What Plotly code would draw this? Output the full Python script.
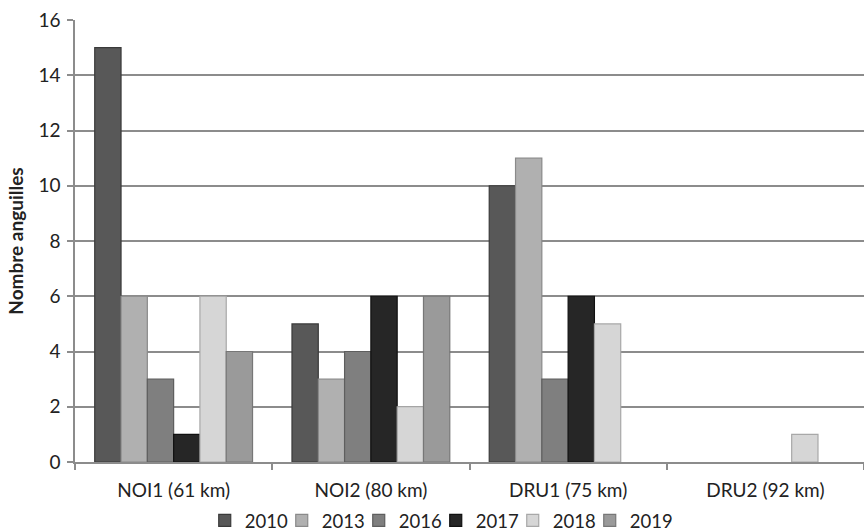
import plotly.graph_objects as go

categories = ["NOI1 (61 km)", "NOI2 (80 km)", "DRU1 (75 km)", "DRU2 (92 km)"]
years = ["2010", "2013", "2016", "2017", "2018", "2019"]
v2010 = [15, 5, 10, None]
v2013 = [6, 3, 11, None]
v2016 = [3, 4, 3, None]
v2017 = [1, 6, 6, None]
v2018 = [6, 2, 5, 1]
v2019 = [4, 6, None, None]
series = [v2010, v2013, v2016, v2017, v2018, v2019]

colors = ["#585858", "#b0b0b0", "#7f7f7f", "#262626", "#d6d6d6", "#9a9a9a"]
edges = ["#3a3a3a", "#8a8a8a", "#5e5e5e", "#111111", "#a8a8a8", "#777777"]

fig = go.Figure()
for y, vals, c, e in zip(years, series, colors, edges):
    fig.add_trace(go.Bar(name=y, x=categories, y=vals,
                         marker=dict(color=c, line=dict(color=e, width=1.2))))
# invisible spacer legend entry so the last legend label is not clipped
fig.add_trace(go.Scatter(name=" ", x=[None], y=[None], mode="markers",
                         marker=dict(color="rgba(0,0,0,0)"), hoverinfo="skip"))

fig.update_layout(
    width=864, height=531,
    margin=dict(l=75, r=0, t=20, b=69, autoexpand=False),
    paper_bgcolor="white", plot_bgcolor="white",
    barmode="group", bargap=0.2, bargroupgap=0,
    font=dict(family="Lato, Open Sans, sans-serif", size=19, color="#222"),
    legend=dict(orientation="h", x=0.506, xanchor="center", y=-0.09, yanchor="top",
                font=dict(size=18.5), traceorder="normal",
                entrywidth=32, entrywidthmode="pixels"),
    showlegend=True,
)
fig.update_yaxes(range=[0, 16], dtick=2, showgrid=True, gridcolor="#8c8c8c", gridwidth=1.5,
                 showline=True, linecolor="#8c8c8c", linewidth=1.5, ticks="outside", ticklen=6,
                 tickcolor="#8c8c8c", tickwidth=1.5, ticklabelstandoff=3,
                 title=dict(text="<b>Nombre anguilles</b>", font=dict(size=19), standoff=10),
                 zeroline=False)
fig.update_xaxes(showline=True, linecolor="#8c8c8c", linewidth=1.5, ticks="outside", ticklen=6,
                 tickson="boundaries", tickcolor="#8c8c8c", tickwidth=1.5, ticklabelstandoff=10)

fig.write_html("out.html", config={"displayModeBar": False},
               post_script="document.body.style.margin='0px';")
